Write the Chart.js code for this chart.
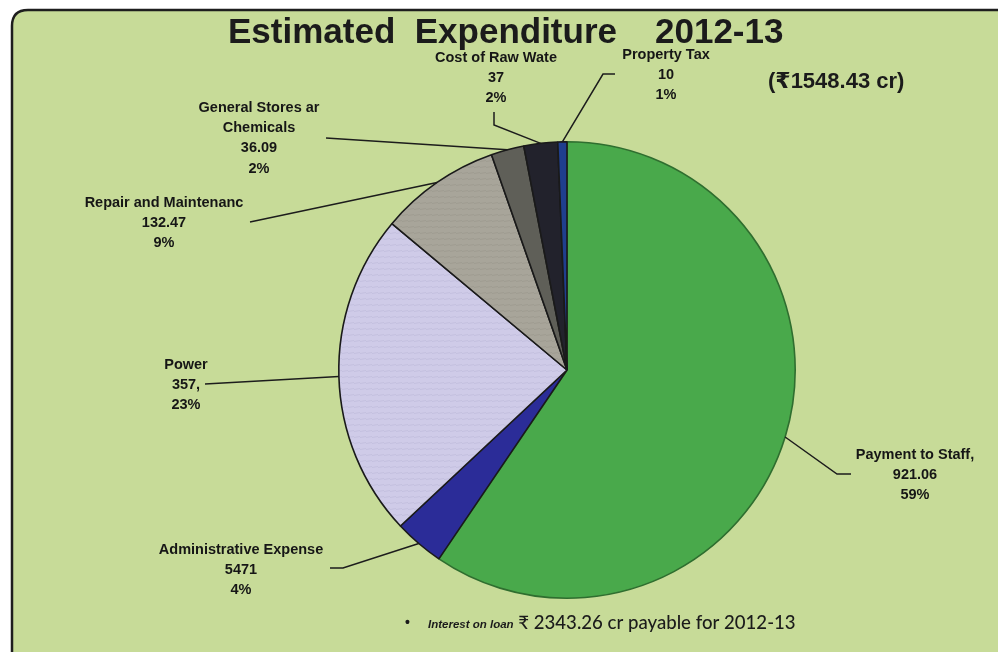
<!DOCTYPE html>
<html>
<head>
<meta charset="utf-8">
<title>Estimated Expenditure 2012-13</title>
<script src="https://cdn.jsdelivr.net/npm/chart.js@4/dist/chart.umd.min.js"></script>
<style>
  html, body { margin: 0; padding: 0; background: #ffffff; }
  #wrap { position: relative; width: 998px; height: 652px; }
</style>
</head>
<body>
<div id="wrap"><canvas id="chart"></canvas></div>
<script>
// Expenditure heads, clockwise from 12 o'clock (values in ₹ crore)
const categories = [
  ['Payment to Staff,'],
  ['Administrative Expense'],
  ['Power'],
  ['Repair and Maintenanc'],
  ['General Stores ar', 'Chemicals'],
  ['Cost of Raw Wate'],
  ['Property Tax']
];
const values = [921.06, 54.71, 357, 132.47, 36.09, 37, 10];
const valueText = ['921.06', '5471', '357,', '132.47', '36.09', '37', '10'];

const titleText = 'Estimated  Expenditure';
const yearText = '2012-13';
const totalText = '(₹1548.43 cr)';
const noteBold = 'Interest on loan';
const noteRest = ' ₹ 2343.26 cr payable for 2012-13';

// Slice fills
function stripes(base, line) {
  const c = document.createElement('canvas');
  c.width = 6; c.height = 6;
  const g = c.getContext('2d');
  g.fillStyle = base; g.fillRect(0, 0, 6, 6);
  g.strokeStyle = line; g.lineWidth = 1;
  g.beginPath(); g.moveTo(0, 5.5); g.lineTo(6, 4.5); g.stroke();
  return g.createPattern(c, 'repeat');
}
const fills = [
  '#49a94b',
  '#2b2c98',
  stripes('#cfcbe8', '#c4c0df'),
  stripes('#a8a59a', '#9f9c91'),
  '#5f5f58',
  '#22222c',
  '#1f3f8e'
];
const edges = ['#2f6e2f', '#1a1a1a', '#1a1a1a', '#1a1a1a', '#1a1a1a', '#1a1a1a', '#1a1a1a'];

// Label text centres and leader elbows (label side first; the line ends on the slice)
const labelLayout = [
  { x: 915, y: 455, path: [[851, 474], [837, 474]] },
  { x: 241, y: 550, path: [[330, 568], [343, 568]] },
  { x: 186, y: 365, path: [[205, 384]] },
  { x: 164, y: 203, path: [[250, 222]] },
  { x: 259, y: 108, path: [[326, 138]] },
  { x: 496, y: 58,  path: [[494, 112], [494, 125]] },
  { x: 666, y: 55,  path: [[615, 74], [603, 74]] }
];

const total = values.reduce((a, b) => a + b, 0);
const LABEL_FONT = 'bold 14.5px "Liberation Sans", Arial, sans-serif';

const framePlugin = {
  id: 'frame',
  beforeDraw(chart) {
    const ctx = chart.ctx;
    ctx.save();
    ctx.fillStyle = '#ffffff';
    ctx.fillRect(0, 0, chart.width, chart.height);
    const x = 12, y = 10, w = 1010, h = 652, r = 16;
    ctx.beginPath();
    ctx.moveTo(x + r, y);
    ctx.lineTo(x + w, y);
    ctx.lineTo(x + w, y + h);
    ctx.lineTo(x, y + h);
    ctx.lineTo(x, y + r);
    ctx.quadraticCurveTo(x, y, x + r, y);
    ctx.closePath();
    ctx.fillStyle = '#c7db98';
    ctx.fill();
    ctx.lineWidth = 2.5;
    ctx.strokeStyle = '#1e1e1e';
    ctx.stroke();
    ctx.restore();
  },
  afterDraw(chart) {
    const ctx = chart.ctx;
    const arcs = chart.getDatasetMeta(0).data;
    ctx.save();

    // leader lines
    ctx.strokeStyle = '#1c1c1c';
    ctx.lineWidth = 1.5;
    arcs.forEach((arc, i) => {
      const p = arc.getProps(['x', 'y', 'startAngle', 'endAngle', 'outerRadius'], true);
      const mid = (p.startAngle + p.endAngle) / 2;
      const ex = p.x + Math.cos(mid) * p.outerRadius;
      const ey = p.y + Math.sin(mid) * p.outerRadius;
      const pts = labelLayout[i].path;
      ctx.beginPath();
      ctx.moveTo(pts[0][0], pts[0][1]);
      for (let k = 1; k < pts.length; k++) ctx.lineTo(pts[k][0], pts[k][1]);
      ctx.lineTo(ex, ey);
      ctx.stroke();
    });

    // slice labels
    ctx.fillStyle = '#161616';
    ctx.font = LABEL_FONT;
    ctx.textAlign = 'center';
    ctx.textBaseline = 'middle';
    values.forEach((v, i) => {
      const lines = categories[i].concat([valueText[i], Math.round(v / total * 100) + '%']);
      const L = labelLayout[i];
      lines.forEach((t, k) => ctx.fillText(t, L.x, L.y + k * 20.2));
    });

    // title
    ctx.textAlign = 'left';
    ctx.textBaseline = 'alphabetic';
    ctx.fillStyle = '#1b1b1b';
    ctx.font = 'bold 35px "Liberation Sans", Arial, sans-serif';
    ctx.fillText(titleText, 228, 43);
    ctx.fillText(yearText, 655, 43);

    // total
    ctx.font = 'bold 22px "Liberation Sans", Arial, "DejaVu Sans", sans-serif';
    ctx.fillText(totalText, 768, 88);

    // footnote
    ctx.font = 'bold 14px "Liberation Sans", Arial, sans-serif';
    ctx.fillText('•', 405, 627);
    ctx.font = 'italic bold 11.5px "Liberation Sans", Arial, sans-serif';
    ctx.fillText(noteBold, 428, 628);
    const bw = ctx.measureText(noteBold).width;
    ctx.font = '500 18.6px Lato, "Noto Sans", sans-serif';
    ctx.fillText(noteRest, 428 + bw, 629);
    ctx.restore();
  }
};

new Chart(document.getElementById('chart'), {
  type: 'pie',
  data: {
    labels: categories.map(c => c.join(' ')),
    datasets: [{
      data: values,
      backgroundColor: fills,
      borderColor: edges,
      borderWidth: 1.6
    }]
  },
  options: {
    responsive: true,
    maintainAspectRatio: false,
    animation: false,
    rotation: 0,
    layout: { padding: { left: 338, right: 202, top: 141, bottom: 53 } },
    plugins: {
      legend: { display: false },
      tooltip: { enabled: false },
      title: { display: false }
    }
  },
  plugins: [framePlugin]
});
</script>
</body>
</html>
